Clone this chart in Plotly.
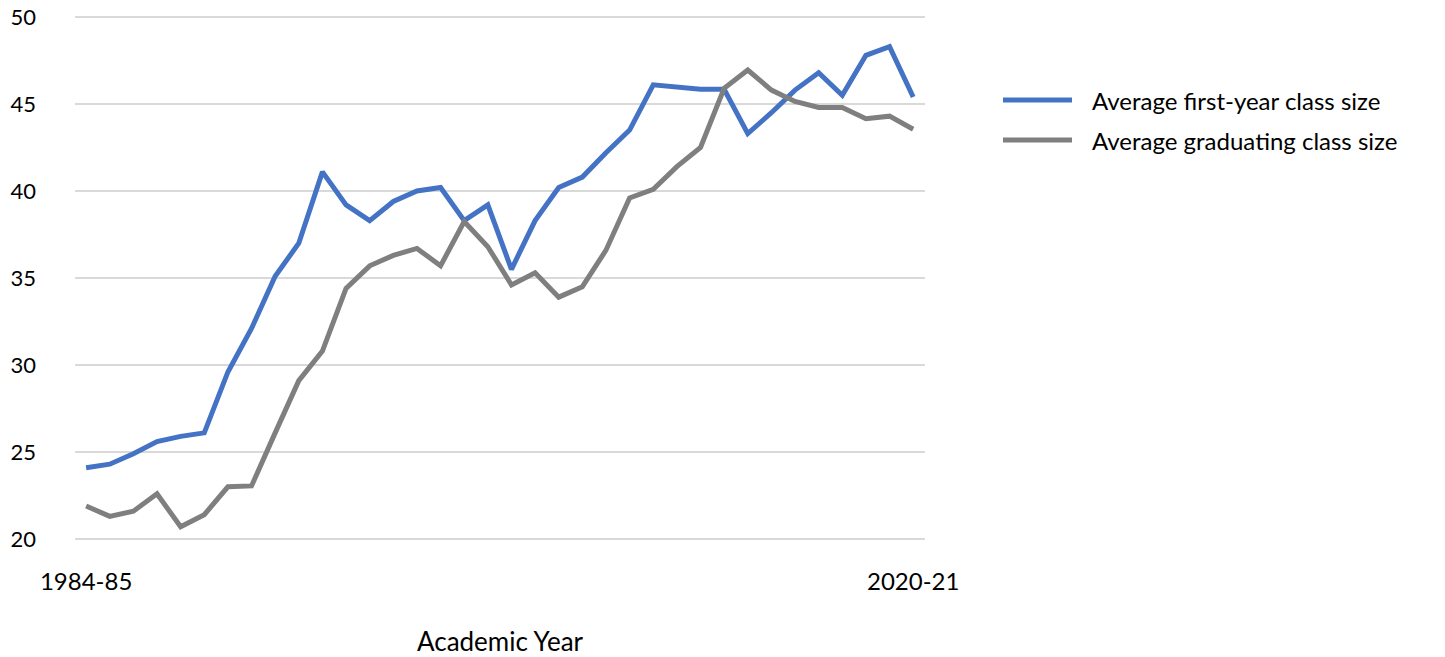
import plotly.graph_objects as go

# ---- data ----
years = ["1984-85", "1985-86", "1986-87", "1987-88", "1988-89", "1989-90", "1990-91",
         "1991-92", "1992-93", "1993-94", "1994-95", "1995-96", "1996-97", "1997-98",
         "1998-99", "1999-00", "2000-01", "2001-02", "2002-03", "2003-04", "2004-05",
         "2005-06", "2006-07", "2007-08", "2008-09", "2009-10", "2010-11", "2011-12",
         "2012-13", "2013-14", "2014-15", "2015-16", "2016-17", "2017-18", "2018-19",
         "2020-21"]
first_year = [24.1, 24.3, 24.9, 25.6, 25.9, 26.1, 29.6, 32.1, 35.1, 37.0, 41.1, 39.2,
              38.3, 39.4, 40.0, 40.2, 38.3, 39.2, 35.5, 38.3, 40.2, 40.8, 42.2, 43.5,
              46.1, 46.0, 45.85, 45.85, 43.3, 44.5, 45.8, 46.8, 45.5, 47.8, 48.3, 45.4]
graduating = [21.9, 21.3, 21.6, 22.6, 20.7, 21.4, 23.0, 23.05, 26.1, 29.1, 30.8, 34.4,
              35.7, 36.3, 36.7, 35.7, 38.25, 36.8, 34.6, 35.3, 33.9, 34.5, 36.6, 39.6,
              40.1, 41.4, 42.5, 45.9, 46.95, 45.8, 45.15, 44.8, 44.8, 44.15, 44.3, 43.55]
series_names = ["Average first-year class size", "Average graduating class size"]
colors = ["#4472C4", "#7F7F7F"]
y_ticks = [20, 25, 30, 35, 40, 45, 50]
x_title = "Academic Year"

FONT = "Lato"
W, H = 1445, 657
L, T = 75, 15
R = W - 925
B = H - 541
PW, PH = W - L - R, H - T - B

fig = go.Figure()
for name, vals, col in zip(series_names, [first_year, graduating], colors):
    fig.add_trace(go.Scatter(x=list(range(len(years))), y=vals, mode="lines", name=name,
                             line=dict(color=col, width=5), showlegend=False))

n = len(years)
fig.update_layout(
    width=W, height=H,
    margin=dict(l=L, r=R, t=T, b=B, autoexpand=False),
    paper_bgcolor="white", plot_bgcolor="white",
    font=dict(family=FONT, size=24, color="#000000"),
    xaxis=dict(range=[-0.47, n - 1 + 0.5], tickvals=[0, n - 1],
               ticktext=[years[0], years[-1]], showgrid=False, zeroline=False,
               showline=False, ticks="", ticklabelstandoff=24, automargin=False,
               tickfont=dict(size=24),
               title=dict(text=x_title, standoff=40, font=dict(size=26))),
    yaxis=dict(range=[19.885, 50.115], tickvals=y_ticks, showgrid=True, gridcolor="#D9D9D9",
               gridwidth=1.5, zeroline=False, showline=False, ticks="",
               ticklabelstandoff=38, automargin=False, tickfont=dict(size=22),
               ticklabeloverflow="allow"),
)

# legend drawn at right
for i, (name, col) in enumerate(zip(series_names, colors)):
    yp = 100 + 40 * i
    yf = (H - B - yp) / PH
    fig.add_shape(type="line", xref="paper", yref="paper",
                  x0=(1003 - L) / PW, x1=(1072 - L) / PW, y0=yf, y1=yf,
                  line=dict(color=col, width=5))
    fig.add_annotation(xref="paper", yref="paper", x=(1090 - L) / PW, y=yf,
                       text=name, showarrow=False, xanchor="left", yanchor="middle",
                       font=dict(family=FONT, size=24, color="#000000"))

fig.write_html("out.html", config={"displayModeBar": False},
               post_script="document.body.style.margin='0';")
